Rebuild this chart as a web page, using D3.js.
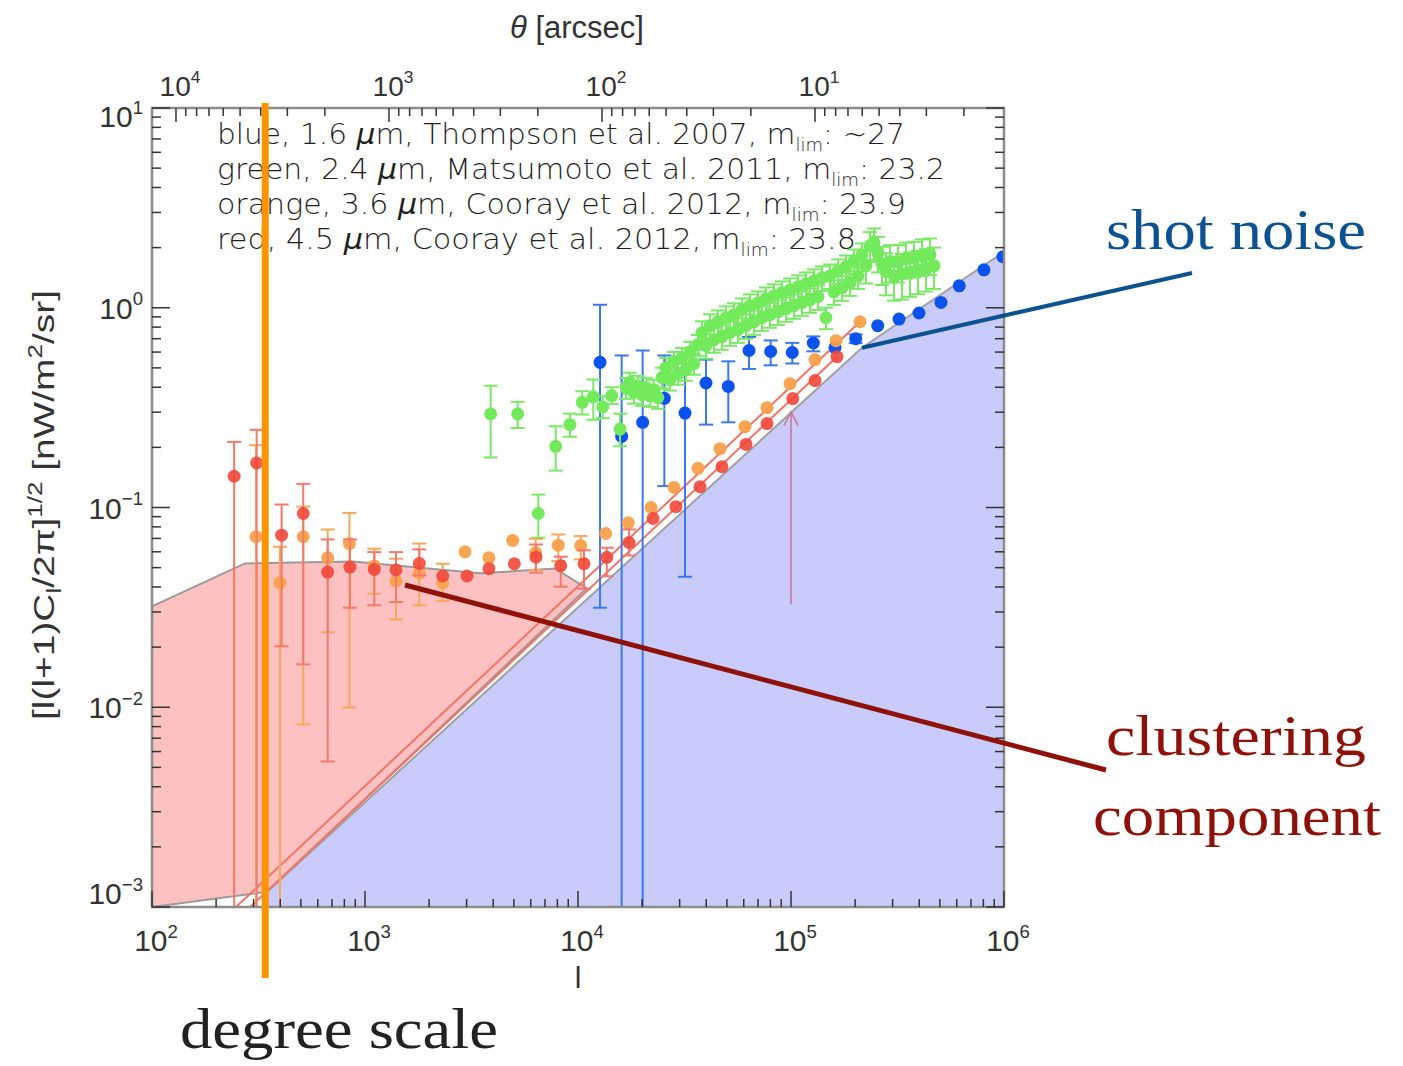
<!DOCTYPE html>
<html>
<head>
<meta charset="utf-8">
<script src="https://d3js.org/d3.v7.min.js"></script>
<style>
  body { margin: 0; background: #fff; }
  svg { display: block; }
  .idl { font-family: 'Liberation Sans', sans-serif; fill: #333; }
  .leg { font-family: 'DejaVu Sans', sans-serif; fill: #1e1e1e; font-weight: 300; }
  .note { font-family: 'Liberation Serif', serif; }
</style>
</head>
<body>
<svg id="chart" width="1403" height="1066"></svg>
<script>
// ---- data (l = multipole, v = [l(l+1)C_l/2pi]^1/2 in nW/m^2/sr) ----

// blue: 1.6 um, Thompson et al. 2007
var blueL  = [12690, 16030, 20120, 25430, 31790, 39900, 50770, 63530, 80280, 101400, 127300, 160900, 201300, 255300, 321400, 399000, 505800, 616600, 805000, 988000];
var blueV  = [0.533, 0.227, 0.267, 0.352, 0.297, 0.42, 0.404, 0.611, 0.604, 0.597, 0.666, 0.632, 0.70, 0.813, 0.878, 0.941, 1.063, 1.288, 1.549, 1.80];
var blueLo = [0.0315, 0.0001, 0.0001, 0.128, 0.045, 0.26, 0.267, 0.494, 0.515, 0.526, 0.605, null, 0.665, null, null, null, null, null, null, null];
var blueHi = [1.035, 0.577, 0.611, 0.577, 0.58, 0.55, 0.539, 0.714, 0.686, 0.667, 0.719, null, 0.735, null, null, null, null, null, null, null];

// green: 2.4 um, Matsumoto et al. 2011 (sparse low-l points)
var greenSparseL  = [3890, 5210, 6510, 7860, 9170, 10470, 11800, 13060, 14400, 15760];
var greenSparseV  = [0.294, 0.294, 0.0933, 0.2025, 0.26, 0.336, 0.358, 0.319, 0.363, 0.247];
var greenSparseLo = [0.178, 0.25, 0.0706, 0.153, 0.226, 0.292, 0.275, 0.28, 0.33, 0.2025];
var greenSparseHi = [0.407, 0.338, 0.116, 0.255, 0.295, 0.382, 0.437, 0.36, 0.40, 0.295];

// green dense points with symmetric errors
var greenL = [16800, 17500, 18300, 19100, 20000, 20900, 21800, 22700, 23700, 24800,
  25900, 27000, 28200, 29500, 30800, 32100, 33600, 35000, 36600, 38200,
  39900, 41700, 43500, 45400, 47400, 49500, 51700, 54000, 56400, 58900,
  61500, 64200, 67000, 70000, 73100, 76300, 79700, 83200, 86900, 90700,
  94800, 99000, 103300, 107900, 112600, 117600, 122800, 128200, 133900, 139800,
  146000, 152500, 159200, 166300, 173600, 181300, 189300, 197700, 206400, 215400,
  225000, 234900, 245300, 256200, 267500, 279300, 291700, 304600, 318000, 332000,
  346700, 362000, 378000, 394700, 412100, 430400, 449400, 469300];
var greenV = [0.398, 0.422, 0.376, 0.407, 0.367, 0.398, 0.363, 0.389, 0.355, 0.447,
  0.501, 0.437, 0.537, 0.468, 0.562, 0.490, 0.603, 0.525, 0.653, 0.750,
  0.646, 0.813, 0.692, 0.851, 0.716, 0.891, 0.750, 0.923, 0.776, 0.977,
  0.813, 1.023, 0.851, 1.059, 0.891, 1.109, 0.923, 1.148, 0.955, 1.189,
  0.989, 1.230, 1.023, 1.274, 1.059, 1.318, 1.096, 1.365, 1.135, 1.413,
  0.891, 1.445, 1.202, 1.531, 1.259, 1.603, 1.334, 1.718, 1.445, 1.841,
  1.622, 2.042, 2.113, 1.884, 1.660, 1.514, 1.698, 1.445, 1.698, 1.479,
  1.758, 1.514, 1.778, 1.549, 1.820, 1.585, 1.841, 1.622];
var greenErr = [0.048, 0.051, 0.045, 0.049, 0.044, 0.048, 0.044, 0.047, 0.043, 0.054,
  0.060, 0.052, 0.064, 0.056, 0.067, 0.059, 0.072, 0.063, 0.078, 0.105,
  0.090, 0.114, 0.097, 0.119, 0.100, 0.125, 0.105, 0.129, 0.109, 0.137,
  0.114, 0.143, 0.119, 0.148, 0.125, 0.155, 0.129, 0.161, 0.134, 0.166,
  0.138, 0.172, 0.143, 0.178, 0.148, 0.185, 0.153, 0.191, 0.159, 0.198,
  0.110, 0.202, 0.168, 0.214, 0.176, 0.224, 0.187, 0.240, 0.202, 0.258,
  0.30, 0.35, 0.38, 0.38, 0.36, 0.36, 0.36, 0.36, 0.36, 0.38,
  0.36, 0.38, 0.36, 0.38, 0.38, 0.38, 0.38, 0.38];

// orange: 3.6 um, Cooray et al. 2012
var orangeL  = [308, 399, 513, 668, 845, 1106, 1398, 1799, 2317, 2949, 3819, 4936, 6330, 8080, 10300, 13490, 17220, 22010, 28230, 36600, 46420, 60810, 77150, 98900, 129600, 162700, 210900];
var orangeV  = [0.0714, 0.042, 0.0714, 0.056, 0.066, 0.051, 0.0428, 0.047, 0.042, 0.060, 0.056, 0.0684, 0.0594, 0.0648, 0.0644, 0.0741, 0.0838, 0.100, 0.126, 0.157, 0.197, 0.254, 0.316, 0.417, 0.55, 0.684, 0.851];
var orangeLo = [0.0001, 0.0001, 0.0082, 0.0237, 0.00997, 0.037, 0.0275, 0.0324, 0.034, null, null, null, 0.0486, 0.0539, 0.055, null, null, null, null, null, null, null, null, null, null, null, null];
var orangeHi = [0.205, 0.0636, 0.101, 0.0776, 0.094, 0.0622, 0.0554, 0.066, 0.0523, null, null, null, 0.0697, 0.0733, 0.0719, null, null, null, null, null, null, null, null, null, null, null, null];

// red: 4.5 um, Cooray et al. 2012
var redL  = [243, 310, 406, 513, 668, 850, 1106, 1398, 1799, 2317, 3013, 3819, 5025, 6350, 8300, 10670, 13650, 17350, 22500, 28840, 37400, 47430, 61500, 77150, 102000, 129700, 164400];
var redV  = [0.1434, 0.167, 0.0727, 0.0933, 0.0475, 0.0503, 0.049, 0.0487, 0.0525, 0.0454, 0.0454, 0.0494, 0.0523, 0.0564, 0.0511, 0.0523, 0.0563, 0.0668, 0.0881, 0.101, 0.127, 0.160, 0.207, 0.263, 0.351, 0.432, 0.569];
var redLo = [0.0001, 0.0001, 0.0202, 0.0164, 0.00535, 0.0315, 0.0324, 0.0336, 0.0457, null, null, null, null, 0.0472, 0.0401, 0.0392, 0.0453, 0.0575, null, null, null, null, null, null, null, null, null];
var redHi = [0.213, 0.245, 0.1035, 0.1314, 0.0692, 0.0692, 0.0598, 0.0598, 0.0617, null, null, null, null, 0.0653, 0.0567, 0.0611, 0.0629, 0.0776, null, null, null, null, null, null, null, null, null];

// shot-noise fit lines (end points)
var orangeFitL = [248, 210900], orangeFitV = [0.001, 0.851];
var redFitL    = [289, 164400], redFitV    = [0.001, 0.569];

// shaded regions
var clusterL = [100, 273, 878, 3467, 7800, 11010, 346.7, 100];
var clusterV = [0.032, 0.0525, 0.0537, 0.0468, 0.0495, 0.0394, 0.00119, 0.001];
var shotL = [346.7, 215400, 1e6, 1e6, 346.7];
var shotV = [0.00119, 0.631, 1.905, 0.001, 0.001];

// arrow at l = 1e5
var arrowL = 1e5, arrowV = [0.0327, 0.302];
// degree scale
var degreeL = 340;

var legendLines = [
  ["blue", "1.6", "Thompson et al. 2007", "~27"],
  ["green", "2.4", "Matsumoto et al. 2011", "23.2"],
  ["orange", "3.6", "Cooray et al. 2012", "23.9"],
  ["red", "4.5", "Cooray et al. 2012", "23.8"]
];
var legendWidths = [688, 728, 689, 639];

var xDecades = [2, 3, 4, 5, 6];
var yDecades = [1, 0, -1, -2, -3];
var thetaDecades = [4, 3, 2, 1];

// ---- drawing ----
var L = 152, R = 1004, T = 108, B = 907;
var svg = d3.select("#chart");

var x = d3.scaleLog().domain([1e2, 1e6]).range([L, R]);
var y = d3.scaleLog().domain([1e-3, 1e1]).range([B, T]);
// theta [arcsec] = 2*pi/l rad
var xTheta = d3.scaleLog().domain([1296000 / 1e2, 1296000 / 1e6]).range([L, R]);

svg.append("defs").append("clipPath").attr("id", "plotclip")
  .append("rect").attr("x", L).attr("y", T).attr("width", R - L).attr("height", B - T);

var plot = svg.append("g").attr("clip-path", "url(#plotclip)");

var poly = d3.line().x(function (d) { return x(d[0]); }).y(function (d) { return y(d[1]); });

plot.append("path")
  .attr("d", poly(d3.zip(clusterL, clusterV)) + "Z")
  .attr("fill", "#fdc1c1").attr("stroke", "#9a9a9a").attr("stroke-width", 2);

plot.append("path")
  .attr("d", poly(d3.zip(shotL, shotV)) + "Z")
  .attr("fill", "#c9cbfb").attr("stroke", "#a0a0a0").attr("stroke-width", 2);

[[orangeFitL, orangeFitV], [redFitL, redFitV]].forEach(function (f) {
  plot.append("path")
    .attr("d", poly(d3.zip(f[0], f[1])))
    .attr("fill", "none").attr("stroke", "#f27468").attr("stroke-width", 2);
});

function series(Ls, Vs, Lo, Hi, dot, bar, op) {
  var pts = Ls.map(function (l, i) {
    return { l: l, v: Vs[i], lo: Lo ? Lo[i] : null, hi: Hi ? Hi[i] : null };
  });
  var g = plot.append("g");
  var eb = pts.filter(function (d) { return d.lo != null; });
  g.selectAll("line.eb").data(eb).join("line")
    .attr("x1", function (d) { return x(d.l); }).attr("x2", function (d) { return x(d.l); })
    .attr("y1", function (d) { return y(d.lo); }).attr("y2", function (d) { return y(d.hi); })
    .attr("stroke", bar).attr("stroke-width", 2);
  ["lo", "hi"].forEach(function (k) {
    g.selectAll("line.cap" + k).data(eb).join("line")
      .attr("x1", function (d) { return x(d.l) - 7; }).attr("x2", function (d) { return x(d.l) + 7; })
      .attr("y1", function (d) { return y(d[k]); }).attr("y2", function (d) { return y(d[k]); })
      .attr("stroke", bar).attr("stroke-width", 2);
  });
  g.selectAll("circle").data(pts).join("circle")
    .attr("cx", function (d) { return x(d.l); }).attr("cy", function (d) { return y(d.v); })
    .attr("r", 6.5).attr("fill", dot).attr("fill-opacity", op);
}

series(blueL, blueV, blueLo, blueHi, "#0b52ee", "#3a78f0", 1);
series(greenSparseL, greenSparseV, greenSparseLo, greenSparseHi, "#72ea5c", "#7ae866", 1);
series(greenL, greenV,
  greenV.map(function (v, i) { return v - greenErr[i]; }),
  greenV.map(function (v, i) { return v + greenErr[i]; }),
  "#72ea5c", "#7ae866", 1);
series(orangeL, orangeV, orangeLo, orangeHi, "#f9a04a", "#f7a85c", 0.95);
series(redL, redV, redLo, redHi, "#f0483a", "#f27a6c", 0.9);

// arrow
var ax = x(arrowL);
plot.append("path")
  .attr("d", "M" + ax + "," + y(arrowV[0]) + "L" + ax + "," + y(arrowV[1]) +
    "M" + (ax - 7) + "," + (y(arrowV[1]) + 14) + "L" + ax + "," + y(arrowV[1]) + "L" + (ax + 7) + "," + (y(arrowV[1]) + 14))
  .attr("fill", "none").attr("stroke", "#c97c96").attr("stroke-width", 1.6);

// ---- frame and ticks ----
var axes = svg.append("g");
axes.append("rect").attr("x", L).attr("y", T).attr("width", R - L).attr("height", B - T)
  .attr("fill", "none").attr("stroke", "#8c8c8c").attr("stroke-width", 2.5);

function isMajor(v) { return Math.abs(Math.log10(v) - Math.round(Math.log10(v))) < 1e-6; }

var tickCol = "#333";
x.ticks(40).forEach(function (v) {
  var len = isMajor(v) ? 16 : 8;
  axes.append("line").attr("x1", x(v)).attr("x2", x(v)).attr("y1", B).attr("y2", B - len)
    .attr("stroke", tickCol).attr("stroke-width", 1.5);
});
xTheta.ticks(40).forEach(function (v) {
  var len = isMajor(v) ? 14 : 8;
  axes.append("line").attr("x1", xTheta(v)).attr("x2", xTheta(v)).attr("y1", T).attr("y2", T + len)
    .attr("stroke", tickCol).attr("stroke-width", 1.5);
});
y.ticks(40).forEach(function (v) {
  var len = isMajor(v) ? 18 : 9;
  axes.append("line").attr("x1", L).attr("x2", L + len).attr("y1", y(v)).attr("y2", y(v))
    .attr("stroke", tickCol).attr("stroke-width", 1.5);
  axes.append("line").attr("x1", R).attr("x2", R - len).attr("y1", y(v)).attr("y2", y(v))
    .attr("stroke", tickCol).attr("stroke-width", 1.5);
});

function powerLabel(g, px, py, exp, anchor, size) {
  var t = g.append("text").attr("class", "idl").attr("x", px).attr("y", py)
    .attr("text-anchor", anchor).attr("font-size", size);
  t.append("tspan").text("10");
  t.append("tspan").attr("dy", -size * 0.45).attr("font-size", size * 0.62)
    .text(exp < 0 ? "\u2212" + (-exp) : exp);
}

xDecades.forEach(function (e) { powerLabel(axes, x(Math.pow(10, e)) + 4, 951, e, "middle", 30); });
thetaDecades.forEach(function (e) { powerLabel(axes, xTheta(Math.pow(10, e)) + 4, 96, e, "middle", 28); });
yDecades.forEach(function (e) {
  var py = y(Math.pow(10, e)) + 11;
  if (e === 1) py += 8;
  if (e === -3) py -= 14;
  powerLabel(axes, 143, py, e, "end", 30);
});

// axis titles
var tt = svg.append("text").attr("class", "idl").attr("x", 577).attr("y", 38)
  .attr("text-anchor", "middle").attr("font-size", 31);
tt.append("tspan").attr("font-style", "italic").text("\u03b8");
tt.append("tspan").text(" [arcsec]");

svg.append("text").attr("class", "idl").attr("x", 578).attr("y", 988)
  .attr("text-anchor", "middle").attr("font-size", 30).text("l");

var yl = svg.append("text").attr("class", "idl")
  .attr("transform", "translate(54,505) rotate(-90)")
  .attr("text-anchor", "middle").attr("font-size", 30)
  .attr("textLength", 430).attr("lengthAdjust", "spacingAndGlyphs");
yl.append("tspan").text("[l(l+1)C");
yl.append("tspan").attr("dy", 7).attr("font-size", 20).text("l");
yl.append("tspan").attr("dy", -7).text("/2\u03c0]");
yl.append("tspan").attr("dy", -12).attr("font-size", 20).text("1/2");
yl.append("tspan").attr("dy", 12).text(" [nW/m");
yl.append("tspan").attr("dy", -12).attr("font-size", 20).text("2");
yl.append("tspan").attr("dy", 12).text("/sr]");

// legend text
legendLines.forEach(function (d, i) {
  var t = svg.append("text").attr("class", "leg").attr("x", 217).attr("y", 144 + i * 35)
    .attr("font-size", 28).attr("textLength", legendWidths[i]).attr("lengthAdjust", "spacingAndGlyphs");
  t.append("tspan").text(d[0] + ", " + d[1] + " ");
  t.append("tspan").attr("font-style", "italic").text("\u03bc");
  t.append("tspan").text("m, " + d[2] + ", m");
  t.append("tspan").attr("dy", 7).attr("font-size", 17).text("lim");
  t.append("tspan").attr("dy", -7).text(": " + d[3]);
});

// degree-scale marker
svg.append("line").attr("x1", x(degreeL)).attr("x2", x(degreeL)).attr("y1", 103).attr("y2", 978)
  .attr("stroke", "#ff9300").attr("stroke-width", 7);

// annotations
svg.append("line").attr("x1", x(215400)).attr("y1", y(0.631)).attr("x2", 1192).attr("y2", 273)
  .attr("stroke", "#0c5290").attr("stroke-width", 4);
svg.append("line").attr("x1", 405).attr("y1", 585).attr("x2", 1106).attr("y2", 770)
  .attr("stroke", "#8e1209").attr("stroke-width", 5);

function note(txt, px, py, w, col) {
  svg.append("text").attr("class", "note").attr("x", px).attr("y", py)
    .attr("font-size", 58).attr("fill", col)
    .attr("textLength", w).attr("lengthAdjust", "spacingAndGlyphs").text(txt);
}
note("shot noise", 1106, 249, 260, "#0c5290");
note("clustering", 1106, 755, 260, "#8e1209");
note("component", 1093, 835, 288, "#8e1209");
note("degree scale", 180, 1048, 318, "#222");
</script>
</body>
</html>
